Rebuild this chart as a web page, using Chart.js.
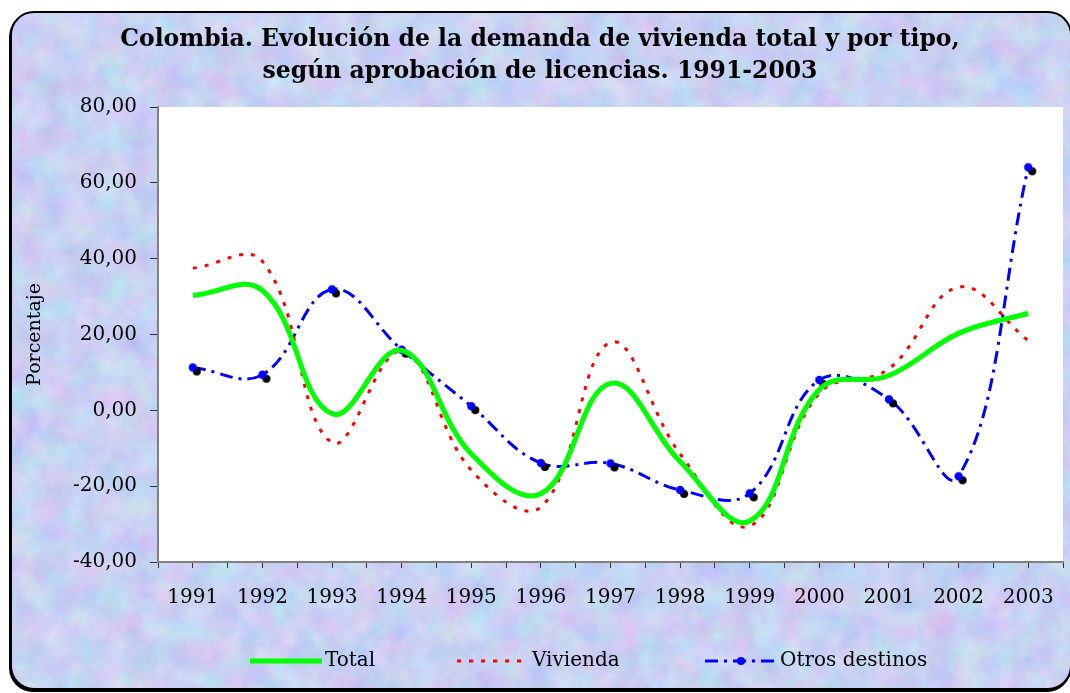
<!DOCTYPE html>
<html>
<head>
<meta charset="utf-8">
<script src="https://cdn.jsdelivr.net/npm/chart.js@4.4.1/dist/chart.umd.min.js"></script>
<style>
html,body{margin:0;padding:0;background:#fff;}
#wrap{position:relative;width:1070px;height:693px;overflow:hidden;background:#fff;}
#frame{position:absolute;left:10px;top:11px;width:1062px;height:679px;box-sizing:border-box;
  border:2px solid #000;border-radius:24px;box-shadow:-1px 2px 0 #000;
  background-color:#c8d2f2;
  background-repeat:no-repeat;
  background-image:
   url("data:image/svg+xml;utf8,<svg xmlns='http://www.w3.org/2000/svg' width='1070' height='693'><filter id='n' color-interpolation-filters='sRGB'><feTurbulence type='fractalNoise' baseFrequency='0.035' numOctaves='4' seed='7'/><feColorMatrix values='0.24 0 0 0 0.665  0 0.2 0 0 0.72  0 0 0.08 0 0.91  0 0 0 0 1'/></filter><rect width='1070' height='693' filter='url(%23n)'/></svg>");
}
canvas{position:absolute;left:0;top:0;}
</style>
</head>
<body>
<div id="wrap">
  <div id="frame"></div>
  <canvas id="c" width="1070" height="693"></canvas>
</div>
<script>
// ---- data ----
const years = [1991, 1992, 1993, 1994, 1995, 1996, 1997, 1998, 1999, 2000, 2001, 2002, 2003];
const total = [30.3, 31.6, -0.9, 15.8, -11.5, -22.0, 7.1, -13.5, -29.2, 5.5, 9.2, 20.3, 25.6];
const vivienda = [37.5, 39.3, -8.5, 15.5, -15.8, -25.5, 17.9, -11.5, -30.5, 4.5, 11.0, 32.5, 18.4];
const otros = [11.3, 9.4, 31.9, 16.0, 1.1, -13.9, -14.0, -21.0, -21.9, 8.0, 2.9, -17.4, 64.1];
const seriesNames = ['Total', 'Vivienda', 'Otros destinos'];
const titleLines = ['Colombia. Evolución de la demanda de vivienda total y por tipo,',
                    'según aprobación de licencias. 1991-2003'];
const yTitle = 'Porcentaje';
const yMin = -40, yMax = 80, yStep = 20;

const toPts = arr => years.map((yr, i) => ({x: yr, y: arr[i]}));

// marker: blue dot with black offset shadow
const mk = document.createElement('canvas');
mk.width = 24; mk.height = 24;
(function(){
  const g = mk.getContext('2d');
  g.fillStyle = '#000';
  g.beginPath(); g.arc(16, 16, 4, 0, Math.PI*2); g.fill();
  g.fillStyle = '#0000ff';
  g.beginPath(); g.arc(12, 12, 4.2, 0, Math.PI*2); g.fill();
})();

const SERIF = "'DejaVu Serif', serif";

const plotBg = {
  id: 'plotBg',
  beforeDraw(chart) {
    const {ctx, chartArea: a} = chart;
    ctx.save();
    ctx.fillStyle = '#ffffff';
    ctx.fillRect(a.left, a.top, a.right - a.left, a.bottom - a.top);
    ctx.restore();
  }
};

const legendX = [250, 457, 705];
const legendY = 661;
const sampleLen = 72;
const customLegend = {
  id: 'customLegend',
  afterDraw(chart) {
    const ctx = chart.ctx;
    ctx.save();
    chart.data.datasets.forEach((ds, i) => {
      const x0 = legendX[i];
      ctx.strokeStyle = ds.borderColor;
      ctx.lineWidth = ds.borderWidth;
      ctx.setLineDash(ds.borderDash || []);
      ctx.beginPath();
      ctx.moveTo(x0, legendY);
      ctx.lineTo(x0 + sampleLen, legendY);
      ctx.stroke();
      ctx.setLineDash([]);
      if (i === 2) {
        ctx.fillStyle = '#0000ff';
        ctx.beginPath(); ctx.arc(x0 + sampleLen/2, legendY, 4, 0, Math.PI*2); ctx.fill();
      }
      ctx.fillStyle = '#000';
      ctx.font = '20px ' + SERIF;
      ctx.textBaseline = 'middle';
      ctx.textAlign = 'left';
      ctx.fillText(ds.label, x0 + sampleLen + 3, legendY);
    });
    ctx.restore();
  }
};

new Chart(document.getElementById('c'), {
  type: 'line',
  data: {
    datasets: [
      {label: seriesNames[0], data: toPts(total), borderColor: '#00ff00', borderWidth: 5,
       pointRadius: 0, tension: 0.4, fill: false},
      {label: seriesNames[1], data: toPts(vivienda), borderColor: '#ff0000', borderWidth: 3,
       borderDash: [4, 8], pointRadius: 0, tension: 0.4, fill: false},
      {label: seriesNames[2], data: toPts(otros), borderColor: '#0000ff', borderWidth: 3,
       borderDash: [13, 6, 3, 6], pointStyle: mk, pointRadius: 4, tension: 0.4, fill: false}
    ]
  },
  options: {
    responsive: false,
    animation: false,
    devicePixelRatio: 1,
    events: [],
    layout: {padding: {left: 12, right: 2, top: 0, bottom: 0}},
    plugins: {
      legend: {display: false},
      tooltip: {enabled: false},
      title: {
        display: true,
        text: titleLines,
        color: '#000',
        font: {family: SERIF, size: 23.5, weight: 'bold', lineHeight: '32px'},
        padding: {top: 24, bottom: 19}
      }
    },
    scales: {
      x: {
        type: 'linear',
        min: years[0] - 0.5,
        max: years[years.length - 1] + 0.5,
        afterFit(s) { s.height = 131; s.paddingLeft = 0; s.paddingRight = 0; },
        border: {display: true, color: '#808080', width: 2},
        grid: {drawOnChartArea: false, drawTicks: true, tickLength: 6, color: '#333'},
        ticks: {
          stepSize: 0.5, maxTicksLimit: 100, autoSkip: false, maxRotation: 0, minRotation: 0,
          padding: 18, color: '#000', font: {family: SERIF, size: 20},
          callback: v => Number.isInteger(v) ? String(v) : ''
        }
      },
      y: {
        min: yMin, max: yMax,
        afterFit(s) { s.width = 146; },
        border: {display: true, color: '#808080', width: 2},
        grid: {drawOnChartArea: false, drawTicks: true, tickLength: 8, color: '#333'},
        ticks: {
          stepSize: yStep, padding: 13, color: '#000', font: {family: SERIF, size: 20},
          callback: v => v.toFixed(2).replace('.', ',')
        },
        title: {display: true, text: yTitle, color: '#000',
                font: {family: SERIF, size: 19}, padding: {top: 12, bottom: 0}}
      }
    }
  },
  plugins: [plotBg, customLegend]
});
</script>
</body>
</html>
